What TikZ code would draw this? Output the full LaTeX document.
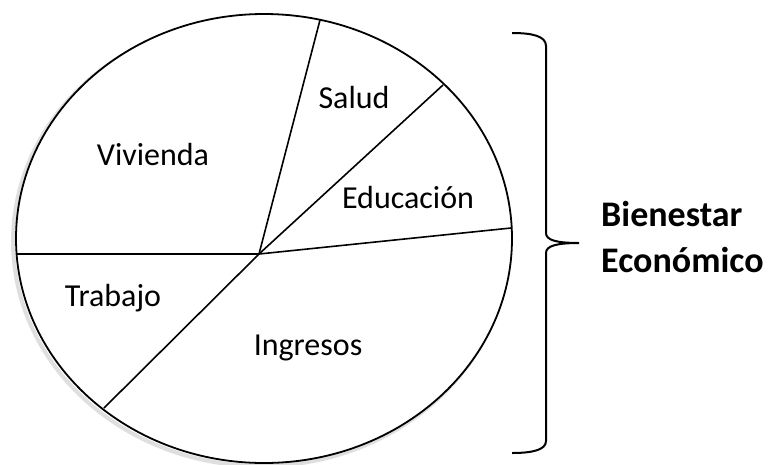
\documentclass[tikz,border=0pt]{standalone}
\usepackage{fontspec}
\setmainfont{Carlito}
\usepackage{tikz}

\begin{document}
\begin{tikzpicture}[x=1pt,y=-1pt]
              \tikzstyle{every node}+=[inner sep=0pt]
              \tikzstyle{slice}=[black, line width=1.6pt]
              \tikzstyle{label}=[font=\fontsize{32}{38}\selectfont]
              \tikzstyle{title}=[font=\fontsize{36}{42}\selectfont\bfseries, anchor=base west]
              \useasboundingbox (0,0) rectangle (773,464);
              \draw [gray!25, line width=4pt] (261,241.5) ellipse (248 and 224.5);
              \draw [white, fill=white] (264,238.5) ellipse (248 and 224.5);
              \draw [black, line width=1.8pt] (264,238.5) ellipse (248 and 224.5);
              \coordinate (o) at (259,254);
              \coordinate (s) at (320,20);
              \coordinate (e) at (443,85);
              \coordinate (i) at (511,228);
              \coordinate (t) at (104,408);
              \coordinate (w) at (16,254);
              \draw [slice] (o) -- (s);
              \draw [slice] (o) -- (e);
              \draw [slice] (o) -- (i);
              \draw [slice] (o) -- (t);
              \draw [slice] (o) -- (w);
              \node [label] (viv) at (153,155) {Vivienda};
              \node [label] (sal) at (354,98) {Salud};
              \node [label] (edu) at (408,198) {Educación};
              \node [label] (tra) at (113,298) {Trabajo};
              \node [label] (ing) at (308,348) {Ingresos};
              \draw [black, line width=2pt] (512,33) .. controls (532,33) and (546,36) .. (546,46)
                -- (546,233) .. controls (546,240) and (556,243) .. (579,243)
                .. controls (556,243) and (546,246) .. (546,253)
                -- (546,441) .. controls (546,450) and (532,453) .. (512,453);
              \node [title] (bien) at (601,226) {Bienestar};
              \node [title] (econ) at (601,272) {Económico};
            \end{tikzpicture}
\end{document}
